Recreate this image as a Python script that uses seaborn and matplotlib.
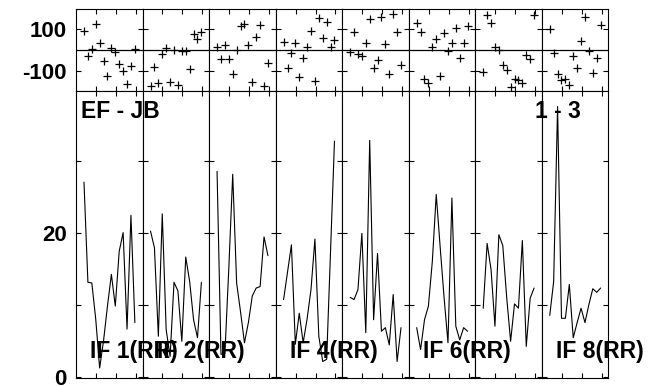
import matplotlib
matplotlib.use("Agg")
import matplotlib.pyplot as plt
import seaborn as sns

# channel numbers inside each IF
channels = list(range(1, 15))
if_labels = ["IF 1(RR)", "IF 2(RR)", "", "IF 4(RR)", "", "IF 6(RR)", "", "IF 8(RR)"]

# phase (degrees) per IF
phase_if1 = [92, -27, 3, 124, 35, -53, -126, 11, -8, -69, -100, -164, -76, 5]
phase_if2 = [-174, -80, -161, -21, 8, -153, 0, -169, -3, -3, -92, 77, 53, 85]
phase_if3 = [16, -45, 24, -45, -116, 0, 116, 126, 24, -153, 64, 121, -174, -61]
phase_if4 = [40, -85, -16, 32, -132, -40, 13, 93, -148, 153, 56, 137, 16, 48]
phase_if5 = [-8, 89, -19, -29, 32, 150, -89, -48, 158, 29, -118, 174, 89, -72]
phase_if6 = [132, 89, -142, -158, 16, 52, -126, 81, -5, 32, 105, -40, 32, 118]
phase_if7 = [-105, 169, 132, 16, 0, -72, -97, -177, -142, -145, -158, -24, -45, 169]
phase_if8 = [100, -13, -116, -145, -142, -169, -29, -89, 45, 158, -3, -110, -40, 121]

# amplitude per IF
amp_if1 = [27.0, 13.1, 13.0, 8.0, 1.2, 5.0, 9.8, 14.2, 9.8, 17.4, 20.0, 6.6, 22.4, 7.5]
amp_if2 = [20.2, 17.9, 5.6, 22.6, 6.5, 2.8, 13.1, 11.9, 4.9, 16.6, 13.2, 7.9, 5.4, 13.1]
amp_if3 = [28.5, 3.1, 3.2, 15.0, 28.1, 13.0, 9.0, 4.7, 7.5, 11.2, 12.3, 12.5, 19.4, 16.8]
amp_if4 = [10.7, 14.5, 18.3, 4.5, 8.8, 4.7, 8.0, 12.1, 19.1, 5.6, 2.1, 2.4, 17.5, 32.7]
amp_if5 = [11.0, 10.7, 12.1, 19.9, 6.1, 32.8, 7.9, 17.1, 6.3, 6.8, 4.4, 11.4, 2.1, 6.8]
amp_if6 = [6.8, 3.75, 7.9, 9.8, 16.0, 25.3, 18.0, 11.0, 4.7, 24.8, 7.0, 5.1, 6.8, 6.3]
amp_if7 = [9.5, 18.5, 14.9, 7.0, 19.7, 18.2, 11.0, 4.9, 10.1, 9.5, 18.9, 4.2, 10.9, 12.3]
amp_if8 = [8.5, 13.2, 37.5, 8.1, 8.1, 12.8, 5.4, 7.5, 9.5, 7.5, 10.0, 12.2, 11.7, 12.3]

phases = [phase_if1, phase_if2, phase_if3, phase_if4, phase_if5, phase_if6, phase_if7, phase_if8]
amps = [amp_if1, amp_if2, amp_if3, amp_if4, amp_if5, amp_if6, amp_if7, amp_if8]

sns.set_style("ticks")
plt.rcParams['font.family'] = ['Liberation Sans', 'DejaVu Sans']
plt.rcParams['font.weight'] = 'bold'
plt.rcParams['axes.linewidth'] = 0.8
for key in ('text.color', 'xtick.color', 'ytick.color', 'axes.labelcolor', 'axes.edgecolor'):
    plt.rcParams[key] = 'black'

W, H = 649, 386
fig = plt.figure(figsize=(W / 100, H / 100), dpi=100)
gs = fig.add_gridspec(2, 8, left=76 / W, right=608.3 / W, top=1 - 9.3 / H, bottom=1 - 377.7 / H,
                      hspace=0, wspace=0, height_ratios=[81.4, 287])

x0 = -1.04
xticks = [x0 + 5.1, x0 + 10.2, x0 + 15.3]

for i in range(8):
    ax_p = fig.add_subplot(gs[0, i])
    ax_a = fig.add_subplot(gs[1, i])

    sns.scatterplot(x=channels, y=phases[i], marker='+', color='black', s=36, linewidth=0.9,
                    ax=ax_p, legend=False)
    ax_p.axhline(0, color='black', lw=0.9)
    ax_p.set_ylim(-197, 197)
    ax_p.set_yticks([-100, 100])

    sns.lineplot(x=channels, y=amps[i], color='black', lw=0.8, ax=ax_a, legend=False)
    ax_a.set_ylim(-0.15, 39.7)
    ax_a.set_yticks([0, 10, 20, 30])

    for ax in (ax_p, ax_a):
        ax.set_xlim(x0, x0 + 17)
        ax.set_xticks(xticks)
        ax.set_xlabel('')
        ax.set_ylabel('')
        ax.tick_params(direction='in', top=True, right=True, length=3.8, width=0.8,
                       labelbottom=False, labelsize=16, pad=6.5, colors='black')
        for sp in ax.spines.values():
            sp.set_color('black')
            sp.set_linewidth(0.8)
        if i > 0:
            ax.tick_params(labelleft=False)

    if i == 0:
        ax_p.set_yticklabels(['-100', '100'], fontweight='bold')
        ax_a.set_yticklabels(['0', '', '20', ''], fontweight='bold')

    if if_labels[i]:
        col_left = 76 + i * (608.3 - 76) / 8
        fig.text((col_left + 14.5) / W, 1 - 358.3 / H, if_labels[i], fontsize=16.5,
                 fontweight='bold', ha='left', va='baseline', color='black')

fig.text(81 / W, 1 - 118.3 / H, 'EF - JB', fontsize=16.5, fontweight='bold',
         ha='left', va='baseline', color='black')
fig.text(581 / W, 1 - 118.3 / H, '1 - 3', fontsize=16.5, fontweight='bold',
         ha='right', va='baseline', color='black')

fig.savefig('out.png', dpi=100)
